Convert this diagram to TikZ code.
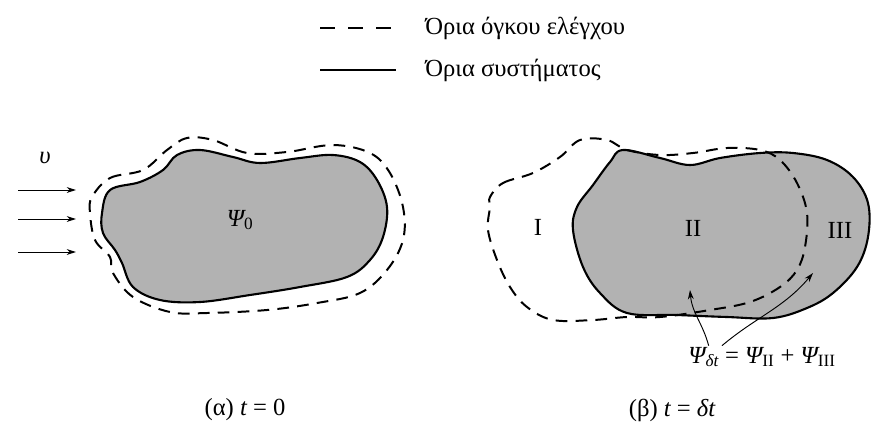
\documentclass[tikz,border=0pt]{standalone}
\usepackage{fontspec}
\setmainfont{Liberation Serif}
\usetikzlibrary{arrows.meta}

\begin{document}
\begin{tikzpicture}[x=0.03cm, y=-0.03cm,
  sysline/.style={line width=1.8pt, fill=black!30},
  cvline/.style={line width=1.7pt, dash pattern=on 10pt off 7pt},
  lbl/.style={font=\fontsize{21}{24}\selectfont, inner sep=1pt},
  flow/.style={-{Stealth[length=8pt,width=5pt]}, line width=0.8pt},
  >={Stealth}]
\useasboundingbox (0,0) rectangle (872,439);

% legend
\coordinate (dashA) at (320,28);
\coordinate (dashB) at (396,28);
\coordinate (solA) at (320,70);
\coordinate (solB) at (396,70);
\draw[line width=1.7pt, dash pattern=on 13pt off 11pt] (dashA) -- (dashB);
\draw[line width=1.7pt] (solA) -- (solB);
\node[lbl, anchor=west] (legcv) at (424,28) {Όρια όγκου ελέγχου};
\node[lbl, anchor=west] (legsys) at (424,70) {Όρια συστήματος};

% (a) t = 0
\draw[sysline] plot[smooth cycle, tension=0.6] coordinates {
  (102,213) (110,190) (140,182) (163,170) (177,155) (200,150) (233,157)
  (260,163) (300,158) (333,155) (360,162) (377,180) (387,207) (383,237)
  (370,260) (347,277) (300,287) (250,295) (200,302) (160,300) (133,287)
  (122,263) (115,250) (103,233)};
\draw[cvline] plot[smooth cycle, tension=0.6] coordinates {
  (92,197) (110,178) (143,170) (167,150) (187,138) (213,140) (247,153)
  (287,152) (333,145) (370,153) (390,173) (403,207) (403,240) (387,270)
  (360,293) (317,303) (267,310) (207,313) (170,312) (133,297) (113,273)
  (110,257) (95,240) (90,213)};
\node[lbl] (psi0) at (240,220) {{\itshape Ψ}\textsubscript{0}};
\node[lbl] (vel) at (45,158) {\itshape υ};
\foreach \y [count=\i] in {190,219,252} {
  \coordinate (in\i) at (18,\y);
  \coordinate (out\i) at (76,\y);
  \draw[flow] (in\i) -- (out\i);
}
\node[lbl] (capa) at (245,410) {(α) {\itshape t} = 0};

% (b) t = delta t
\draw[sysline] plot[smooth cycle, tension=0.6] coordinates {
  (623,150) (660,158) (690,165) (720,158) (760,153) (793,153) (827,160)
  (853,177) (868,203) (868,237) (857,267) (833,293) (807,308) (773,318)
  (727,317) (677,315) (627,313) (600,293) (583,267) (573,230) (577,207)
  (593,185) (610,162)};
\draw[cvline] plot[smooth cycle, tension=0.6] coordinates {
  (490,197) (503,183) (533,173) (560,157) (580,140) (607,140) (627,150)
  (660,155) (693,153) (727,148) (760,150) (780,160) (797,183) (807,213)
  (805,247) (797,270) (780,287) (750,302) (710,310) (660,317) (627,317)
  (593,320) (553,320) (527,307) (510,287) (497,260) (488,230) (490,207)};
\node[lbl] (reg1) at (538,227) {I};
\node[lbl] (reg2) at (693,228) {II};
\node[lbl] (reg3) at (840,230) {III};
\node[lbl] (psidt) at (762,357) {{\itshape Ψ}\textsubscript{\itshape δt} = {\itshape Ψ}\textsubscript{II} + {\itshape Ψ}\textsubscript{III}};
\coordinate (tip2) at (690,290);
\coordinate (tip3) at (813,273);
\draw[flow] ([xshift=-1.6cm]psidt.north) to[out=105, in=-85] (tip2);
\draw[flow] ([xshift=-1.2cm]psidt.north) to[out=40, in=-130] (tip3);
\node[lbl] (capb) at (672,410) {(β) {\itshape t} = {\itshape δt}};
\end{tikzpicture}
\end{document}
